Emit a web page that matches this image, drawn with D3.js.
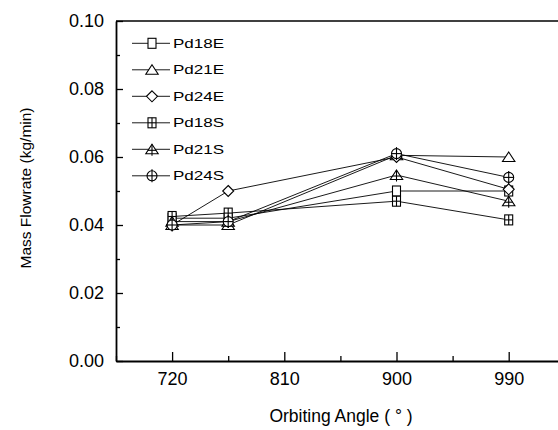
<!DOCTYPE html>
<html><head><meta charset="utf-8">
<script src="https://cdn.jsdelivr.net/npm/d3@7"></script>
<style>
html,body{margin:0;padding:0;background:#fff;}
svg{display:block;font-family:"Liberation Sans",Arial,Helvetica,sans-serif;}
</style></head>
<body>
<svg id="c" width="558" height="430"></svg>
<script>
// ---- data ----
const angles = [720, 765, 900, 990];
const seriesNames = ["Pd18E", "Pd21E", "Pd24E", "Pd18S", "Pd21S", "Pd24S"];
const pd18E = [0.042, 0.042, 0.050, 0.050];
const pd21E = [0.040, 0.040, 0.0605, 0.060];
const pd24E = [0.040, 0.050, 0.060, 0.0505];
const pd18S = [0.0425, 0.0435, 0.047, 0.0415];
const pd21S = [0.041, 0.041, 0.0547, 0.047];
const pd24S = [0.040, 0.041, 0.061, 0.054];
const seriesValues = [pd18E, pd21E, pd24E, pd18S, pd21S, pd24S];
const markerTypes = ["square", "triangle", "diamond", "squareCross", "triangleCross", "circleCross"];
const xTicks = [720, 810, 900, 990];
const xMinor = [675, 765, 855, 945, 1035];
const yTicks = [0.00, 0.02, 0.04, 0.06, 0.08, 0.10];
const yMinor = [0.01, 0.03, 0.05, 0.07, 0.09];

const svg = d3.select("#c");
const x = d3.scaleLinear().domain([675, 1035]).range([116, 564.8]);
const y = d3.scaleLinear().domain([0, 0.10]).range([361, 21]);

// frame
svg.append("line").attr("x1", x(675)).attr("x2", x(1035)).attr("y1", y(0.1)).attr("y2", y(0.1))
  .attr("stroke", "#000").attr("stroke-width", 1.3);
svg.append("line").attr("x1", x(1035)).attr("x2", x(1035)).attr("y1", y(0.1)).attr("y2", y(0))
  .attr("stroke", "#000").attr("stroke-width", 1.3);

// axes
const yAx = svg.append("g").attr("transform", `translate(${x(675)},0)`)
  .call(d3.axisLeft(y).tickValues(yTicks).tickFormat(d3.format(".2f")).tickSize(-7).tickSizeOuter(0).tickPadding(12));
const yAxMin = svg.append("g").attr("transform", `translate(${x(675)},0)`)
  .call(d3.axisLeft(y).tickValues(yMinor).tickFormat("").tickSize(-4).tickSizeOuter(0));
const xAx = svg.append("g").attr("transform", `translate(0,${y(0)})`)
  .call(d3.axisBottom(x).tickValues(xTicks).tickFormat(d3.format("d")).tickSize(-9).tickSizeOuter(0).tickPadding(11));
const xAxMin = svg.append("g").attr("transform", `translate(0,${y(0)})`)
  .call(d3.axisBottom(x).tickValues(xMinor).tickFormat("").tickSize(-5).tickSizeOuter(0));
[yAx, yAxMin, xAx, xAxMin].forEach(g => {
  g.selectAll("path.domain").attr("stroke", "#000").attr("stroke-width", 1.8);
  g.selectAll(".tick line").attr("stroke", "#000").attr("stroke-width", 1.3);
  g.selectAll("text").attr("fill", "#000").attr("font-size", 18).attr("font-family", "Liberation Sans, Arial, sans-serif");
});
yAxMin.select("path.domain").remove();
xAxMin.select("path.domain").remove();

// axis titles
svg.append("text").attr("transform", "translate(31,188) rotate(-90)")
  .attr("text-anchor", "middle").attr("font-size", 15.5).attr("fill", "#000")
  .text("Mass Flowrate (kg/min)");
svg.append("text").attr("x", 341).attr("y", 422)
  .attr("text-anchor", "middle").attr("font-size", 17.5).attr("fill", "#000")
  .text("Orbiting Angle ( ° )");

// marker drawing
function drawMarker(g, type) {
  const st = s => s.attr("fill", "#fff").attr("stroke", "#000").attr("stroke-width", 1.1);
  const ln = (x1, y1, x2, y2) => g.append("line").attr("x1", x1).attr("y1", y1).attr("x2", x2).attr("y2", y2)
    .attr("stroke", "#000").attr("stroke-width", 1.1);
  if (type === "square" || type === "squareCross") {
    st(g.append("rect").attr("x", -4).attr("y", -5).attr("width", 8).attr("height", 10));
    if (type === "squareCross") { ln(0, -5, 0, 5); ln(-4, 0, 4, 0); }
  } else if (type === "triangle" || type === "triangleCross") {
    st(g.append("path").attr("d", "M0,-5L6.2,4.5L-6.2,4.5Z"));
    if (type === "triangleCross") { ln(0, -5, 0, 6.5); ln(-4, 1, 4, 1); }
  } else if (type === "diamond") {
    st(g.append("path").attr("d", "M0,-5.5L5.5,0L0,5.5L-5.5,0Z"));
  } else if (type === "circleCross") {
    st(g.append("circle").attr("r", 5));
    ln(0, -6.5, 0, 6.5); ln(-5, 0, 5, 0);
  }
}

// series
const line = d3.line().x(d => x(d[0])).y(d => y(d[1]));
seriesNames.forEach((name, i) => {
  const pts = angles.map((a, j) => [a, seriesValues[i][j]]);
  const g = svg.append("g").attr("class", "series");
  g.append("path").attr("d", line(pts)).attr("fill", "none").attr("stroke", "#000").attr("stroke-width", 0.9);
  pts.forEach(p => {
    const m = g.append("g").attr("transform", `translate(${x(p[0])},${y(p[1])})`);
    drawMarker(m, markerTypes[i]);
  });
});

// legend
const legY0 = 43.3, legDy = 26.5;
seriesNames.forEach((name, i) => {
  const ly = legY0 + i * legDy;
  const g = svg.append("g").attr("transform", `translate(0,${ly})`);
  g.append("line").attr("x1", 132).attr("x2", 170).attr("y1", 0).attr("y2", 0)
    .attr("stroke", "#000").attr("stroke-width", 0.9);
  const m = g.append("g").attr("transform", "translate(152,0)");
  drawMarker(m, markerTypes[i]);
  g.append("text").attr("transform", "translate(173,4.3) scale(1.42,1)")
    .attr("font-size", 12).attr("fill", "#000").text(name);
});
</script>
</body></html>
